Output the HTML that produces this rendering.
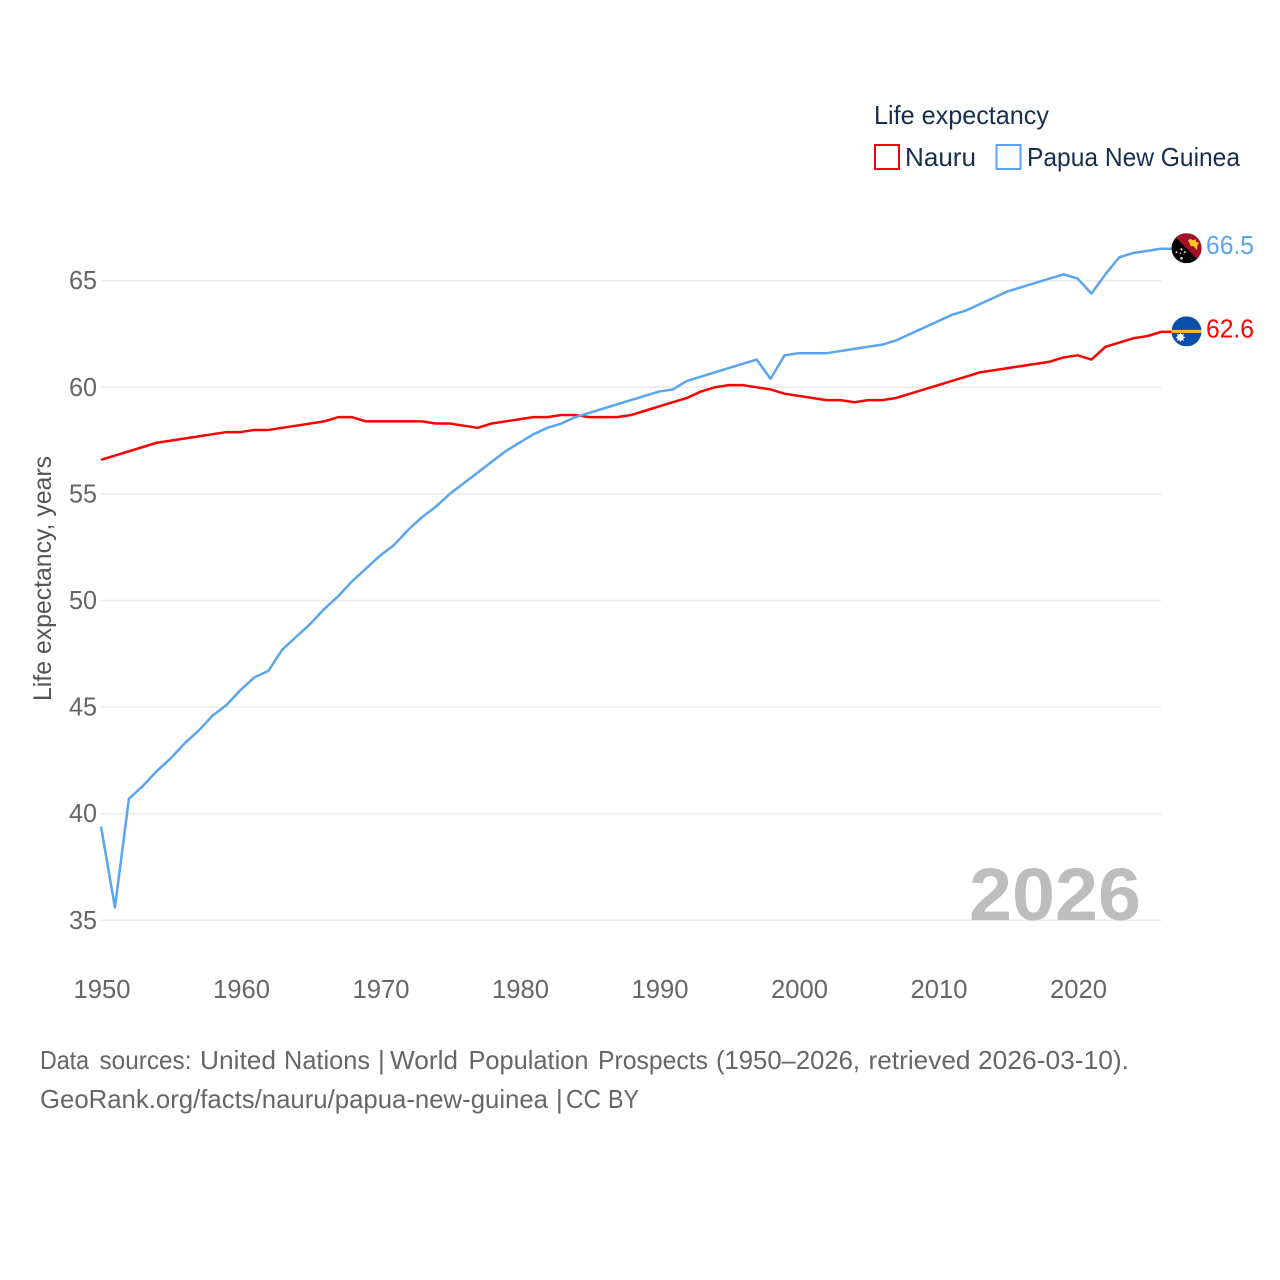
<!DOCTYPE html>
<html lang="en">
<head>
<meta charset="utf-8">
<title>Life expectancy: Nauru and Papua New Guinea</title>
<style>
html,body{margin:0;padding:0;background:#fff;width:1280px;height:1280px;overflow:hidden}
svg{display:block}
text{font-family:"Liberation Sans",sans-serif}
</style>
</head>
<body>
<svg id="chart" xmlns="http://www.w3.org/2000/svg" width="1280" height="1280" viewBox="0 0 1280 1280">
  <defs>
    <clipPath id="flag-clip"><circle cx="0" cy="0" r="15"/></clipPath>
  </defs>
  <g id="grid"></g>
  <g id="xticks"></g>
  <g id="yticks"></g>
  <text transform="translate(51,701) rotate(-90)" font-size="25" fill="#555" textLength="245" lengthAdjust="spacingAndGlyphs">Life expectancy, years</text>
  <text x="969" y="920" font-size="74" font-weight="700" fill="#bdbdbd" textLength="172" lengthAdjust="spacingAndGlyphs">2026</text>
  <g id="series"></g>
  <g id="flag-png">
    <g clip-path="url(#flag-clip)">
      <rect x="-15" y="-15" width="30" height="30" fill="#000"/>
      <polygon points="-15,-15 15,-15 15,15" fill="#a30f2b"/>
      <polygon points="1.500,-8 4,-9.500 6,-8 9,-9 10,-6 12.500,-6 11,-3 10.500,2 8,-1 6,-2.500 4,-2 3,-5" fill="#f7c51e"/>
      <circle cx="-5" cy="1" r="1.100" fill="#ddd"/>
      <circle cx="-10" cy="4" r="1" fill="#ddd"/>
      <circle cx="-1.700" cy="4" r="1" fill="#ddd"/>
      <circle cx="-5" cy="10" r="1.300" fill="#ddd"/>
      <circle cx="-6" cy="5" r="0.700" fill="#ddd"/>
    </g>
  </g>
  <g id="flag-nauru">
    <g clip-path="url(#flag-clip)">
      <rect x="-15" y="-15" width="30" height="30" fill="#0a50a8"/>
      <rect x="-15" y="-1.500" width="30" height="3" fill="#f5c31c"/>
      <circle cx="-6" cy="6" r="3.400" fill="#fff"/>
      <path d="M-6 1.500V10.500M-10.500 6H-1.500M-9.200 2.800L-2.800 9.200M-9.200 9.200L-2.800 2.800" stroke="#fff" stroke-width="1"/>
    </g>
  </g>
  <g id="end-labels"></g>

  <g>
    <text x="874" y="124" font-size="26" fill="#172f4f" textLength="175" lengthAdjust="spacingAndGlyphs">Life expectancy</text>
    <g>
      <rect x="875" y="145" width="24" height="24" fill="#fff" stroke="#ff0000" stroke-width="2"/>
      <text x="905" y="166" font-size="26" fill="#172f4f" textLength="71" lengthAdjust="spacingAndGlyphs">Nauru</text>
    </g>
    <g>
      <rect x="996.500" y="145" width="24" height="24" fill="#fff" stroke="#5aa5ee" stroke-width="2"/>
      <text x="1027" y="166" font-size="26" fill="#172f4f" textLength="213" lengthAdjust="spacingAndGlyphs">Papua New Guinea</text>
    </g>
  </g>

  <text y="1069" font-size="26" fill="#666"><tspan x="40" textLength="49" lengthAdjust="spacingAndGlyphs">Data</tspan> <tspan x="99.500" textLength="92" lengthAdjust="spacingAndGlyphs">sources:</tspan> <tspan x="200" textLength="76" lengthAdjust="spacingAndGlyphs">United</tspan> <tspan x="284" textLength="86" lengthAdjust="spacingAndGlyphs">Nations</tspan> <tspan x="378">|</tspan> <tspan x="390" textLength="68" lengthAdjust="spacingAndGlyphs">World</tspan> <tspan x="468.500" textLength="120" lengthAdjust="spacingAndGlyphs">Population</tspan> <tspan x="598" textLength="110" lengthAdjust="spacingAndGlyphs">Prospects</tspan> <tspan x="716" textLength="144" lengthAdjust="spacingAndGlyphs">(1950–2026,</tspan> <tspan x="868.500" textLength="102" lengthAdjust="spacingAndGlyphs">retrieved</tspan> <tspan x="978" textLength="151" lengthAdjust="spacingAndGlyphs">2026-03-10).</tspan></text>
  <text y="1108" font-size="26" fill="#666"><tspan x="40" textLength="508" lengthAdjust="spacingAndGlyphs">GeoRank.org/facts/nauru/papua-new-guinea</tspan> <tspan x="556">|</tspan> <tspan x="566" textLength="35" lengthAdjust="spacingAndGlyphs">CC</tspan> <tspan x="608" textLength="31" lengthAdjust="spacingAndGlyphs">BY</tspan></text>
</svg>
<script>
const startYear = 1950;
const xTickYears = [1950, 1960, 1970, 1980, 1990, 2000, 2010, 2020];
const yTickValues = [35, 40, 45, 50, 55, 60, 65];
const nauruValues = [
  56.6,56.8,57.0,57.2,57.4,57.5,57.6,57.7,57.8,57.9,
  57.9,58.0,58.0,58.1,58.2,58.3,58.4,58.6,58.6,58.4,
  58.4,58.4,58.4,58.4,58.3,58.3,58.2,58.1,58.3,58.4,
  58.5,58.6,58.6,58.7,58.7,58.6,58.6,58.6,58.7,58.9,
  59.1,59.3,59.5,59.8,60.0,60.1,60.1,60.0,59.9,59.7,
  59.6,59.5,59.4,59.4,59.3,59.4,59.4,59.5,59.7,59.9,
  60.1,60.3,60.5,60.7,60.8,60.9,61.0,61.1,61.2,61.4,
  61.5,61.3,61.9,62.1,62.3,62.4,62.6
];
const pngValues = [
  39.4,35.6,40.7,41.3,42.0,42.6,43.3,43.9,44.6,45.1,
  45.8,46.4,46.7,47.7,48.3,48.9,49.6,50.2,50.9,51.5,
  52.1,52.6,53.3,53.9,54.4,55.0,55.5,56.0,56.5,57.0,
  57.4,57.8,58.1,58.3,58.6,58.8,59.0,59.2,59.4,59.6,
  59.8,59.9,60.3,60.5,60.7,60.9,61.1,61.3,60.4,61.5,
  61.6,61.6,61.6,61.7,61.8,61.9,62.0,62.2,62.5,62.8,
  63.1,63.4,63.6,63.9,64.2,64.5,64.7,64.9,65.1,65.3,
  65.1,64.4,65.3,66.1,66.3,66.4,66.5
];

const NS = 'http://www.w3.org/2000/svg';
const xScale = function (year) { return 101 + (year - 1950) * 13.95; };
const yScale = function (v) { return 920.3 - (v - 35) * 21.32; };
const gridEl = document.getElementById('grid');
const xTicksEl = document.getElementById('xticks');
const yTicksEl = document.getElementById('yticks');
const seriesEl = document.getElementById('series');
const endLabelsEl = document.getElementById('end-labels');

function makeText(parent, x, y, str, size, fill, anchor, len) {
  const t = document.createElementNS(NS, 'text');
  t.setAttribute('x', x);
  t.setAttribute('y', y);
  t.setAttribute('font-size', size);
  t.setAttribute('fill', fill);
  t.setAttribute('text-anchor', anchor);
  t.setAttribute('textLength', len);
  t.setAttribute('lengthAdjust', 'spacingAndGlyphs');
  t.textContent = str;
  parent.appendChild(t);
  return t;
}

yTickValues.forEach(function (v) {
  const line = document.createElementNS(NS, 'line');
  
  
  line.setAttribute('x1', xScale(startYear));
  line.setAttribute('x2', xScale(2026));
  line.setAttribute('y1', yScale(v));
  line.setAttribute('y2', yScale(v));
  line.setAttribute('stroke', '#ebebeb');
  line.setAttribute('stroke-width', '1.500');
  gridEl.appendChild(line);
  const label = makeText(yTicksEl, 97, yScale(v) + 8.500, String(v), 26, '#666', 'end', 28);
  
  
});

xTickYears.forEach(function (year) {
  const label = makeText(xTicksEl, xScale(year) + 1, 998, String(year), 26, '#666', 'middle', 57);
  
  
});

function drawSeries(values, color, key, flagId) {
  const pts = values.map(function (v, i) {
    return xScale(startYear + i).toFixed(2) + ',' + yScale(v).toFixed(2);
  });
  const lastYear = startYear + values.length - 1;
  const lastY = yScale(values[values.length - 1]);
  pts.push((xScale(lastYear) + 11).toFixed(2) + ',' + lastY.toFixed(2));
  const line = document.createElementNS(NS, 'polyline');
  
  
  line.setAttribute('points', pts.join(' '));
  line.setAttribute('fill', 'none');
  line.setAttribute('stroke', color);
  line.setAttribute('stroke-width', '2.500');
  line.setAttribute('stroke-linejoin', 'round');
  seriesEl.appendChild(line);
  document.getElementById(flagId).setAttribute('transform', 'translate(1186.5,' + (lastY - 0.5).toFixed(2) + ')');
  const label = makeText(endLabelsEl, 1206, lastY + 5.500, values[values.length - 1].toFixed(1), 26, color, 'start', 48);
  
  
}

drawSeries(nauruValues, '#ff0000', 'nauru', 'flag-nauru');
drawSeries(pngValues, '#5aa5ee', 'papua-new-guinea', 'flag-png');
</script>
</body>
</html>
